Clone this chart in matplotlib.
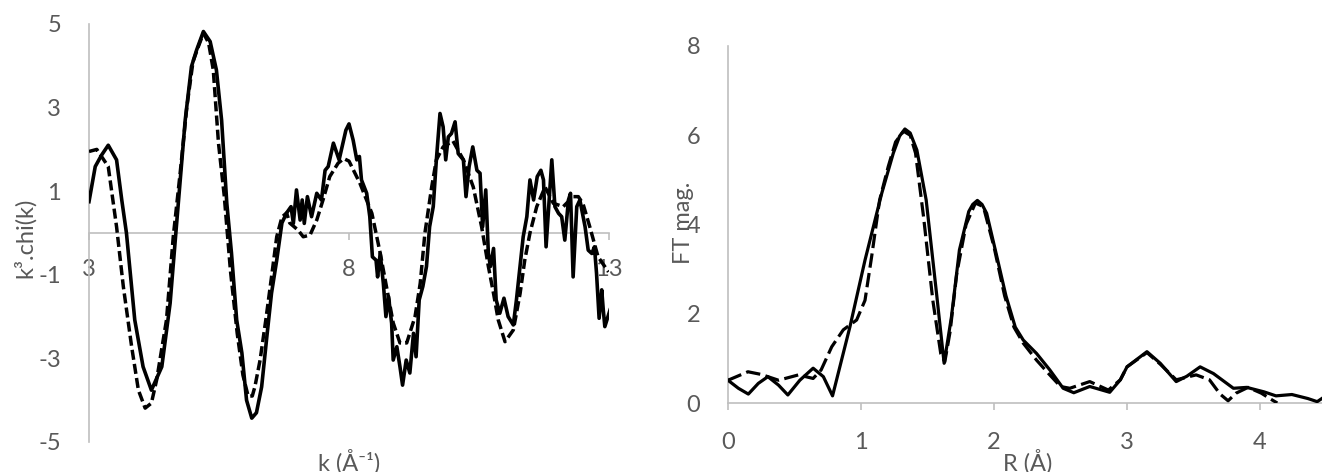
import matplotlib
matplotlib.use("Agg")
import matplotlib.pyplot as plt

# ---------------- data: left panel (k-space) ----------------
k_exp = [3.00, 3.12, 3.24, 3.37, 3.53, 3.63, 3.72, 3.88, 4.04, 4.20, 4.40, 4.56, 4.67, 4.85,
         4.97, 5.07, 5.20, 5.33, 5.45, 5.55, 5.65, 5.74, 5.84, 5.94, 6.03, 6.13, 6.22, 6.32,
         6.42, 6.51, 6.61, 6.71, 6.80, 6.885, 6.93, 6.99, 7.06, 7.10, 7.14, 7.20, 7.28, 7.38,
         7.47, 7.54, 7.60, 7.70, 7.81, 7.94, 8.00, 8.08, 8.15, 8.20, 8.24, 8.34, 8.40, 8.45,
         8.52, 8.55, 8.60, 8.66, 8.71, 8.76, 8.82, 8.85, 8.92, 8.98, 9.03, 9.10, 9.17, 9.24,
         9.29, 9.35, 9.42, 9.49, 9.55, 9.62, 9.68, 9.75, 9.81, 9.86, 9.91, 9.97, 10.04, 10.10,
         10.20, 10.25, 10.31, 10.38, 10.46, 10.52, 10.57, 10.63, 10.68, 10.72, 10.78, 10.83,
         10.90, 10.98, 11.06, 11.16, 11.22, 11.29, 11.35, 11.42, 11.48, 11.55, 11.62, 11.69,
         11.74, 11.79, 11.85, 11.90, 11.96, 12.03, 12.09, 12.15, 12.22, 12.26, 12.31, 12.38,
         12.44, 12.54, 12.60, 12.67, 12.72, 12.76, 12.81, 12.86, 12.89, 12.92, 13.02]
chi_exp = [0.75, 1.59, 1.86, 2.10, 1.75, 0.79, 0.00, -2.08, -3.20, -3.76, -3.20, -1.68, 0.00, 2.70,
           3.98, 4.38, 4.82, 4.58, 3.90, 2.70, 0.71, -0.48, -2.08, -2.87, -4.00, -4.43, -4.30, -3.68,
           -2.48, -1.44, -0.65, 0.24, 0.48, 0.63, 0.23, 1.03, 0.31, 0.79, 0.23, 0.87, 0.39, 0.95,
           0.79, 1.50, 1.59, 2.15, 1.75, 2.46, 2.61, 2.22, 1.75, 1.83, 1.27, 0.95, 0.39, -0.57,
           -0.65, -1.05, -0.49, -1.20, -2.00, -1.52, -2.16, -3.04, -2.72, -3.20, -3.64, -3.04, -3.35, -2.40,
           -2.96, -1.60, -1.28, -0.80, 0.15, 0.63, 1.75, 2.86, 2.54, 1.75, 2.30, 2.38, 2.66, 1.90,
           1.75, 0.87, 1.59, 2.06, 1.50, 1.43, 0.15, 1.03, -0.49, -0.80, -0.37, -1.60,
           -1.92, -1.56, -2.00, -2.20, -1.60, -0.80, -0.09, 0.39, 1.27, 0.79, 1.35, 1.50,
           1.27, -0.33, 0.79, 1.75, 0.63, 0.47, 0.39, -0.17, 0.79, 0.95, -1.05, 0.63,
           0.79, 0.15, -0.41, -0.49, -0.33, -0.96, -2.04, -1.36, -1.84, -2.24, -1.84]

k_fit = [3.00, 3.15, 3.37, 3.53, 3.66, 3.82, 3.95, 4.08, 4.20, 4.30, 4.49, 4.62, 4.75, 4.88,
         5.00, 5.10, 5.20, 5.30, 5.39, 5.49, 5.60, 5.72, 5.85, 5.96, 6.06, 6.14, 6.19, 6.29,
         6.40, 6.51, 6.61, 6.71, 6.80, 6.86, 7.02, 7.12, 7.25, 7.38, 7.50, 7.63, 7.79, 7.90,
         8.00, 8.21, 8.44, 8.60, 8.72, 8.85, 8.98, 9.11, 9.27, 9.37, 9.46, 9.59, 9.68, 9.81,
         10.00, 10.20, 10.39, 10.55, 10.68, 10.78, 10.87, 11.00, 11.16, 11.29, 11.38, 11.48,
         11.61, 11.77, 11.93, 12.12, 12.31, 12.41, 12.50, 12.63, 12.79, 12.99]
chi_fit = [1.95, 2.00, 1.59, 0.15, -1.28, -2.72, -3.76, -4.19, -4.07, -3.52, -2.08, -0.09, 1.40, 3.00,
           4.10, 4.45, 4.78, 4.55, 3.90, 2.15, 0.90, -0.90, -2.40, -3.40, -3.90, -3.90, -3.68, -3.04,
           -2.08, -1.05, -0.09, 0.38, 0.48, 0.24, 0.07, -0.09, -0.05, 0.31, 0.79, 1.35, 1.67, 1.78,
           1.72, 1.19, 0.47, -0.48, -1.28, -2.15, -2.63, -2.63, -2.00, -1.20, 0.00, 1.10, 1.75, 2.06,
           2.20, 1.75, 1.10, 0.15, -0.80, -1.45, -2.08, -2.60, -2.32, -1.45, -0.65, 0.00,
           0.63, 1.10, 0.71, 0.63, 0.87, 0.87, 0.70, 0.15, -0.57, -0.93]

k_ticks = [3, 8, 13]
chi_ticks = [-5, -3, -1, 1, 3, 5]

# ---------------- data: right panel (R-space) ----------------
R_exp = [0.00, 0.078, 0.153, 0.228, 0.30, 0.38, 0.45, 0.54, 0.64, 0.717, 0.786, 0.917, 1.03,
         1.156, 1.243, 1.29, 1.33, 1.37, 1.42, 1.49, 1.57, 1.625, 1.68, 1.74, 1.81, 1.84, 1.875,
         1.91, 1.945, 2.02, 2.09, 2.16, 2.22, 2.32, 2.42, 2.52, 2.60, 2.72, 2.87, 2.95, 3.00,
         3.15, 3.25, 3.37, 3.45, 3.55, 3.65, 3.80, 3.90, 4.03, 4.12, 4.24, 4.36, 4.43, 4.47]
ft_exp = [0.51, 0.33, 0.20, 0.44, 0.59, 0.40, 0.18, 0.51, 0.78, 0.59, 0.16, 1.71, 3.20,
          4.70, 5.60, 5.98, 6.14, 6.05, 5.67, 4.55, 2.40, 0.89, 1.93, 3.43, 4.29, 4.45, 4.54,
          4.45, 4.25, 3.30, 2.40, 1.70, 1.41, 1.11, 0.74, 0.33, 0.23, 0.37, 0.24, 0.52, 0.81,
          1.15, 0.89, 0.48, 0.60, 0.81, 0.66, 0.33, 0.35, 0.25, 0.16, 0.19, 0.10, 0.03, 0.11]

R_fit = [0.00, 0.15, 0.25, 0.38, 0.53, 0.64, 0.70, 0.78, 0.867, 0.967, 1.03, 1.08, 1.14, 1.205,
         1.26, 1.32, 1.37, 1.41, 1.47, 1.54, 1.60, 1.63, 1.67, 1.72, 1.79, 1.86, 1.92, 2.00,
         2.08, 2.15, 2.22, 2.32, 2.41, 2.50, 2.57, 2.60, 2.72, 2.86, 2.95, 3.00, 3.15, 3.25,
         3.37, 3.52, 3.62, 3.70, 3.76, 3.82, 3.91, 4.01, 4.09, 4.13]
ft_fit = [0.51, 0.70, 0.64, 0.51, 0.63, 0.55, 0.74, 1.26, 1.64, 1.86, 2.30, 3.28, 4.55, 5.30,
          5.85, 6.09, 6.00, 5.60, 4.18, 2.30, 1.10, 0.92, 1.60, 2.90, 4.00, 4.48, 4.40, 3.50,
          2.40, 1.70, 1.34, 0.96, 0.66, 0.37, 0.33, 0.36, 0.48, 0.29, 0.52, 0.81, 1.13, 0.87,
          0.52, 0.63, 0.52, 0.20, 0.05, 0.22, 0.35, 0.22, 0.07, 0.00]

R_ticks = [0, 1, 2, 3, 4]
ft_ticks = [0, 2, 4, 6, 8]

# ---------------- style ----------------
plt.rcParams['font.family'] = ['Lato', 'DejaVu Sans']
plt.rcParams['axes.unicode_minus'] = False
TXT = '#595959'
AX = '#bfbfbf'
FS = 17

W, H = 1322, 472
fig = plt.figure(figsize=(W / 100, H / 100), dpi=100)

def frac(x0, y0, x1, y1):
    return [x0 / W, 1 - y1 / H, (x1 - x0) / W, (y1 - y0) / H]

# Left panel
ax1 = fig.add_axes(frac(89, 24, 609, 442))
ax1.plot(k_exp, chi_exp, color='black', lw=2.6, solid_joinstyle='round', zorder=3)
ax1.plot(k_fit, chi_fit, color='black', lw=2.5, linestyle=(0, (2.9, 1.2)),
         dash_capstyle='butt', zorder=3)
ax1.set_xlim(3, 13)
ax1.set_ylim(-5, 5)
ax1.set_xticks(k_ticks)
ax1.set_yticks(chi_ticks)
for s in ['top', 'right']:
    ax1.spines[s].set_visible(False)
ax1.spines['left'].set_color(AX)
ax1.spines['left'].set_linewidth(1.2)
ax1.spines['bottom'].set_position(('data', 0))
ax1.spines['bottom'].set_color(AX)
ax1.spines['bottom'].set_linewidth(1.2)
ax1.tick_params(axis='x', colors=AX, length=5, width=1.2, direction='out',
                labelcolor=TXT, labelsize=FS, pad=14)
ax1.tick_params(axis='y', length=0, labelcolor=TXT, labelsize=FS, pad=20)
ax1.set_xlabel('k (Å⁻¹)', color=TXT, fontsize=FS)
ax1.xaxis.set_label_coords(0.5, -0.048)
ax1.xaxis.label.set_va('center')
ax1.set_ylabel('k³.chi(k)', color=TXT, fontsize=FS)
ax1.yaxis.set_label_coords(-0.123, 0.488)
ax1.yaxis.label.set_va('center')
ax1.patch.set_alpha(0)

# Right panel
ax2 = fig.add_axes(frac(728, 46, 728 + 4.5 * 133, 403))
ax2.plot(R_exp, ft_exp, color='black', lw=2.3, solid_joinstyle='round', zorder=3)
ax2.plot(R_fit, ft_fit, color='black', lw=2.3, linestyle=(0, (4.5, 1.7)),
         dash_capstyle='butt', zorder=3)
ax2.set_xlim(0, 4.5)
ax2.set_ylim(0, 8)
ax2.set_xticks(R_ticks)
ax2.set_yticks(ft_ticks)
for s in ['top', 'right']:
    ax2.spines[s].set_visible(False)
for s in ['left', 'bottom']:
    ax2.spines[s].set_color(AX)
    ax2.spines[s].set_linewidth(1.2)
ax2.tick_params(axis='x', colors=AX, length=5, width=1.2, direction='out',
                labelcolor=TXT, labelsize=FS, pad=16)
ax2.tick_params(axis='y', length=0, labelcolor=TXT, labelsize=FS, pad=20)
ax2.set_xlabel('R (Å)', color=TXT, fontsize=FS)
ax2.xaxis.set_label_coords(0.5, -0.165)
ax2.xaxis.label.set_va('center')
ax2.set_ylabel('FT mag.', color=TXT, fontsize=FS)
ax2.yaxis.set_label_coords(-0.075, 0.504)
ax2.yaxis.label.set_va('center')
ax2.patch.set_alpha(0)

fig.savefig('out.png', dpi=100)
